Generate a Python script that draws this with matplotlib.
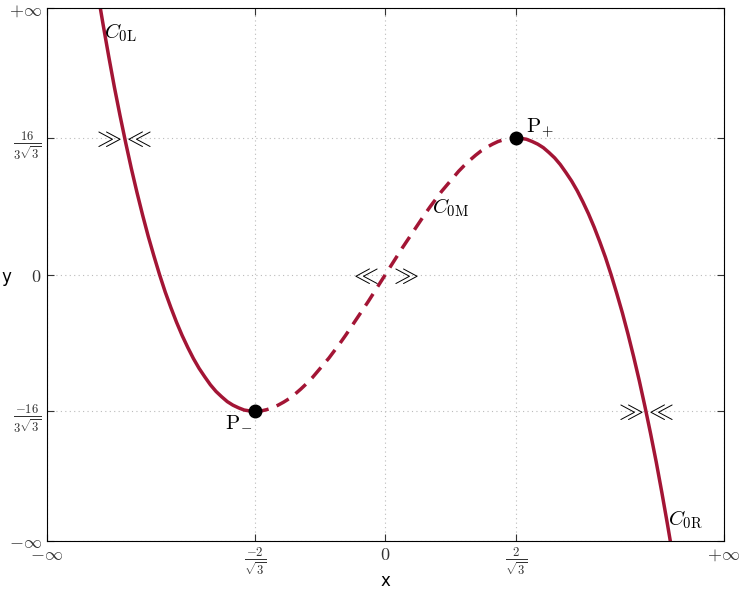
import numpy as np
import matplotlib.pyplot as plt

plt.rcParams['mathtext.fontset'] = 'cm'

# curve samples (branches split at the turning points)
left_x = [-2.6, -2.55, -2.5, -2.45, -2.4, -2.35, -2.3, -2.25, -2.2, -2.15, -2.1, -2.05, -2.0,
          -1.95, -1.9, -1.85, -1.8, -1.75, -1.7, -1.65, -1.6, -1.55, -1.5, -1.45, -1.4,
          -1.35, -1.3, -1.25, -1.2, -1.155]
left_y = [7.18, 6.38, 5.63, 4.91, 4.22, 3.58, 2.97, 2.39, 1.85, 1.34, 0.86, 0.42, 0.0,
          -0.39, -0.74, -1.07, -1.37, -1.64, -1.89, -2.11, -2.30, -2.48, -2.63, -2.75, -2.86,
          -2.94, -3.00, -3.05, -3.07, -3.079]
mid_x = [-1.155, -1.1, -1.05, -1.0, -0.95, -0.9, -0.85, -0.8, -0.75, -0.7, -0.65, -0.6,
         -0.55, -0.5, -0.45, -0.4, -0.35, -0.3, -0.25, -0.2, -0.15, -0.1, -0.05, 0.0,
         0.05, 0.1, 0.15, 0.2, 0.25, 0.3, 0.35, 0.4, 0.45, 0.5, 0.55, 0.6,
         0.65, 0.7, 0.75, 0.8, 0.85, 0.9, 0.95, 1.0, 1.05, 1.1, 1.155]
mid_y = [-3.079, -3.07, -3.04, -3.0, -2.94, -2.87, -2.79, -2.69, -2.58, -2.46, -2.33, -2.18,
         -2.03, -1.88, -1.71, -1.54, -1.36, -1.17, -0.98, -0.79, -0.60, -0.40, -0.20, 0.0,
         0.20, 0.40, 0.60, 0.79, 0.98, 1.17, 1.36, 1.54, 1.71, 1.88, 2.03, 2.18,
         2.33, 2.46, 2.58, 2.69, 2.79, 2.87, 2.94, 3.0, 3.04, 3.07, 3.079]
right_x = [1.155, 1.2, 1.25, 1.3, 1.35, 1.4, 1.45, 1.5, 1.55, 1.6, 1.65, 1.7, 1.75,
           1.8, 1.85, 1.9, 1.95, 2.0, 2.05, 2.1, 2.15, 2.2, 2.25, 2.3, 2.35,
           2.4, 2.45, 2.5, 2.55, 2.6]
right_y = [3.079, 3.07, 3.05, 3.00, 2.94, 2.86, 2.75, 2.63, 2.48, 2.30, 2.11, 1.89, 1.64,
           1.37, 1.07, 0.74, 0.39, 0.0, -0.42, -0.86, -1.34, -1.85, -2.39, -2.97, -3.58,
           -4.22, -4.91, -5.63, -6.38, -7.18]

pts_x = [-1.1547, 1.1547]
pts_y = [-3.0792, 3.0792]

xticks = [-3, -1.1547, 0, 1.1547, 3]
xlabels = [r'$-\infty$', r'$\frac{-2}{\sqrt{3}}$', r'$0$', r'$\frac{2}{\sqrt{3}}$', r'$+\infty$']
yticks = [-6, -3.0792, 0, 3.0792, 6]
ylabels = [r'$-\infty$', r'$\frac{-16}{3\sqrt{3}}$', r'$0$', r'$\frac{16}{3\sqrt{3}}$', r'$+\infty$']

col = '#a31535'

fig = plt.figure(figsize=(7.41, 5.90), dpi=100)
ax = fig.add_axes([0.063, 0.083, 0.914, 0.903])

ax.plot(left_x, left_y, color=col, lw=2.5)
ax.plot(mid_x, mid_y, color=col, lw=2.5, ls=(0, (4, 2.5)))
ax.plot(right_x, right_y, color=col, lw=2.5)
ax.plot(pts_x, pts_y, 'o', color='black', ms=9, zorder=5)

ax.set_xlim(-3, 3)
ax.set_ylim(-6, 6)
ax.set_xticks(xticks)
ax.set_xticklabels(xlabels, fontsize=13)
ax.set_yticks(yticks)
ax.set_yticklabels(ylabels, fontsize=13)
ax.tick_params(direction='in', top=True, right=True, length=5, colors='#333333')
ax.grid(True, ls=(0, (1, 3)), color='#bbbbbb', lw=0.8)

ax.set_xlabel('x', fontsize=12)
ax.xaxis.set_label_coords(0.5, -0.058)
ax.set_ylabel('y', fontsize=12, rotation=0, va='center')
ax.yaxis.set_label_coords(-0.06, 0.495)

ax.text(-2.49, 5.45, r'$C_{0\mathrm{L}}$', fontsize=15, va='center')
ax.text(0.41, 1.5, r'$C_{0\mathrm{M}}$', fontsize=15, va='center')
ax.text(2.5, -5.53, r'$C_{0\mathrm{R}}$', fontsize=15, va='center')
ax.text(-1.30, -3.28, r'$\mathrm{P}_{-}$', fontsize=15, ha='center', va='center')
ax.text(1.37, 3.3, r'$\mathrm{P}_{+}$', fontsize=15, ha='center', va='center')

ax.text(-2.33, 3.08, r'$\gg\!\ll$', fontsize=18, ha='center', va='center')
ax.text(2.29, -3.08, r'$\gg\!\ll$', fontsize=18, ha='center', va='center')
ax.text(-0.01, 0.0, r'$\ll\;\gg$', fontsize=18, ha='center', va='center')

fig.savefig('out.png')
